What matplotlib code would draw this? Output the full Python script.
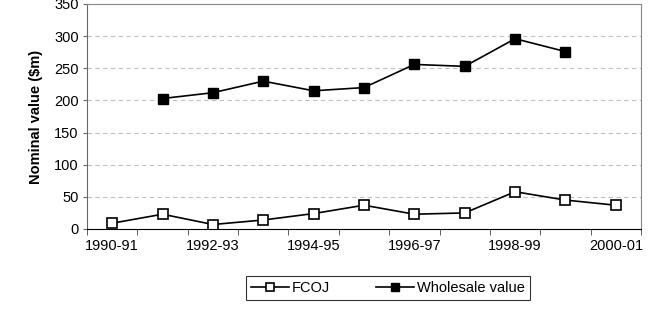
import matplotlib
matplotlib.use("Agg")
import matplotlib.pyplot as plt
import numpy as np

categories = ["1990-91", "1991-92", "1992-93", "1993-94", "1994-95", "1995-96",
              "1996-97", "1997-98", "1998-99", "1999-00", "2000-01"]
fcoj = [9, 23, 7, 14, 24, 37, 23, 25, 58, 45, 37]
wholesale = [np.nan, 203, 212, 230, 215, 220, 256, 253, 296, 276, np.nan]
tick_labels = ["1990-91", "1992-93", "1994-95", "1996-97", "1998-99", "2000-01"]

plt.rcParams['font.family'] = ['Liberation Sans', 'DejaVu Sans']

fig = plt.figure(figsize=(6.52, 3.19), dpi=100)
ax = fig.add_axes([87/652, 1 - 229/319, (641-87)/652, (229-4)/319])

x = np.arange(len(categories))
ax.plot(x, fcoj, color='black', lw=1.2, marker='s', ms=7, mfc='white', mec='black', mew=1.2, label='FCOJ')
ax.plot(x, wholesale, color='black', lw=1.2, marker='s', ms=7, mfc='black', mec='black', label='Wholesale value')

ax.set_xlim(-0.5, len(categories) - 0.5)
ax.set_ylim(0, 350)
ax.set_yticks(np.arange(0, 351, 50))
ax.set_xticks(x[::2])
ax.set_xticklabels(tick_labels)
ax.set_xticks(np.arange(-0.5, len(categories), 1), minor=True)
ax.tick_params(axis='x', which='major', length=0, labelsize=10.5, pad=7)
ax.tick_params(axis='x', which='minor', length=4, direction='out', color='#444444')
ax.tick_params(axis='y', labelsize=10.5, length=3, color='#666666', pad=3)
ax.yaxis.grid(True, color='#c0c0c0', linestyle=(0, (4, 3)), lw=0.8)
ax.set_axisbelow(True)
for s in ['top', 'right']:
    ax.spines[s].set_color('#888888')
ax.spines['left'].set_color('#666666')
ax.spines['bottom'].set_color('black')
ax.set_ylabel('Nominal value ($m)', fontsize=10.5, fontweight='bold', labelpad=8)

leg = fig.legend(loc='center', bbox_to_anchor=(388/652, 1 - 288/319), ncol=2, frameon=True,
                 fancybox=False, edgecolor='black', fontsize=10.5, handlelength=2.6,
                 handletextpad=0.2, columnspacing=3.2, borderpad=0.35, markerscale=0.85)
leg.get_frame().set_linewidth(0.8)

fig.savefig('out.png', dpi=100)
